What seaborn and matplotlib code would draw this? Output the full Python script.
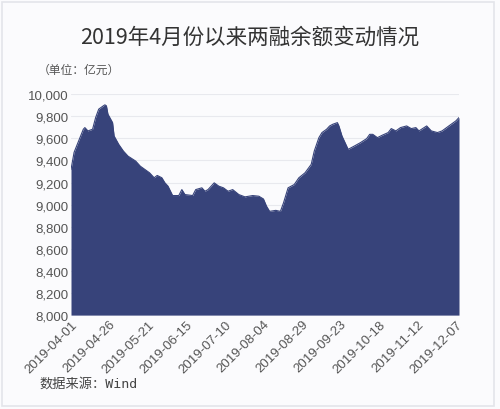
import pandas as pd
import matplotlib
matplotlib.use("Agg")
import matplotlib.pyplot as plt
import matplotlib.dates as mdates
import seaborn as sns

# 两融余额（亿元）
dates = ["2019-04-01", "2019-04-03", "2019-04-09", "2019-04-10", "2019-04-12",
         "2019-04-15", "2019-04-17", "2019-04-19", "2019-04-22", "2019-04-23",
         "2019-04-24", "2019-04-25", "2019-04-28", "2019-04-29", "2019-05-02",
         "2019-05-05", "2019-05-08", "2019-05-13", "2019-05-16", "2019-05-19",
         "2019-05-22", "2019-05-25", "2019-05-27", "2019-05-30", "2019-06-01",
         "2019-06-03", "2019-06-06", "2019-06-10", "2019-06-12", "2019-06-14",
         "2019-06-19", "2019-06-21", "2019-06-25", "2019-06-27", "2019-06-29",
         "2019-07-03", "2019-07-06", "2019-07-09", "2019-07-12", "2019-07-15",
         "2019-07-19", "2019-07-23", "2019-07-28", "2019-08-01", "2019-08-04",
         "2019-08-06", "2019-08-08", "2019-08-12", "2019-08-15", "2019-08-17",
         "2019-08-20", "2019-08-24", "2019-08-27", "2019-08-31", "2019-09-04",
         "2019-09-06", "2019-09-09", "2019-09-11", "2019-09-14", "2019-09-16",
         "2019-09-18", "2019-09-21", "2019-09-22", "2019-09-24", "2019-09-28",
         "2019-10-02", "2019-10-06", "2019-10-10", "2019-10-12", "2019-10-14",
         "2019-10-17", "2019-10-20", "2019-10-24", "2019-10-26", "2019-10-29",
         "2019-11-01", "2019-11-05", "2019-11-08", "2019-11-11", "2019-11-13",
         "2019-11-18", "2019-11-21", "2019-11-25", "2019-11-28", "2019-12-03",
         "2019-12-07", "2019-12-09"]
balance = [9318, 9473, 9682, 9697, 9667,
           9682, 9788, 9864, 9894, 9903,
           9894, 9818, 9742, 9621, 9545,
           9485, 9439, 9394, 9348, 9318,
           9288, 9243, 9264, 9243, 9197,
           9167, 9082, 9082, 9136, 9091,
           9082, 9136, 9152, 9121, 9136,
           9197, 9167, 9152, 9121, 9136,
           9091, 9070, 9082, 9076, 9051,
           8985, 8939, 8948, 8939, 9015,
           9152, 9182, 9243, 9288, 9364,
           9485, 9606, 9652, 9682, 9712,
           9727, 9742, 9712, 9621, 9500,
           9530, 9561, 9597, 9636, 9636,
           9606, 9627, 9652, 9688, 9667,
           9697, 9712, 9688, 9697, 9667,
           9712, 9667, 9652, 9667, 9718,
           9758, 9788]
tick_dates = ["2019-04-01", "2019-04-26", "2019-05-21", "2019-06-15", "2019-07-10",
              "2019-08-04", "2019-08-29", "2019-09-23", "2019-10-18", "2019-11-12",
              "2019-12-07"]
y_ticks = list(range(8000, 10001, 200))

df = pd.DataFrame({"date": pd.to_datetime(dates), "value": balance})

sns.set_theme(style="whitegrid")
plt.rcParams['font.family'] = ['Noto Sans CJK SC', 'DejaVu Sans']

bg = "#fbfbfd"
navy = "#37437a"
fig = plt.figure(figsize=(5, 4.1), dpi=100, facecolor=bg)
ax = fig.add_axes([0.142, 0.229, 0.776, 0.539], facecolor=bg)

sns.lineplot(data=df, x="date", y="value", color=navy, linewidth=0.8, ax=ax)
ax.fill_between(df["date"], df["value"], 8000, color=navy, linewidth=0)

ax.set_ylim(8000, 10000)
ax.set_xlim(df["date"].min(), df["date"].max())
ax.set_yticks(y_ticks)
ax.yaxis.set_major_formatter(matplotlib.ticker.FuncFormatter(lambda v, p: f"{int(v):,}"))
ax.set_xticks(pd.to_datetime(tick_dates))
ax.xaxis.set_major_formatter(mdates.DateFormatter("%Y-%m-%d"))
plt.setp(ax.get_xticklabels(), rotation=45, ha="right", rotation_mode="anchor")
ax.tick_params(axis="both", labelsize=9.5, colors="#555555", pad=2, length=0)
for lab in ax.get_xticklabels() + ax.get_yticklabels():
    lab.set_family("Liberation Sans")
ax.grid(True, axis="y", color="#e8e9ee", linewidth=0.8)
ax.grid(False, axis="x")
ax.set_xlabel("")
ax.set_ylabel("")
for s in ax.spines.values():
    s.set_visible(False)

fig.text(0.5, 0.907, "2019年4月份以来两融余额变动情况", ha="center", va="center",
         fontsize=15.5, color="#333333")
fig.text(0.075, 0.828, "（单位：亿元）", ha="left", va="center", fontsize=8.5, color="#555555")
fig.text(0.078, 0.062, "数据来源：Wind", ha="left", va="center", fontsize=9.5, color="#444444",
         family=["DejaVu Sans Mono", "Noto Sans CJK SC"])

fig.add_artist(plt.Rectangle((0.004, 0.008), 0.984, 0.985, transform=fig.transFigure,
                             fill=False, edgecolor="#e4e5ea", linewidth=1.2))

fig.savefig("out.png", dpi=100, facecolor=bg)
